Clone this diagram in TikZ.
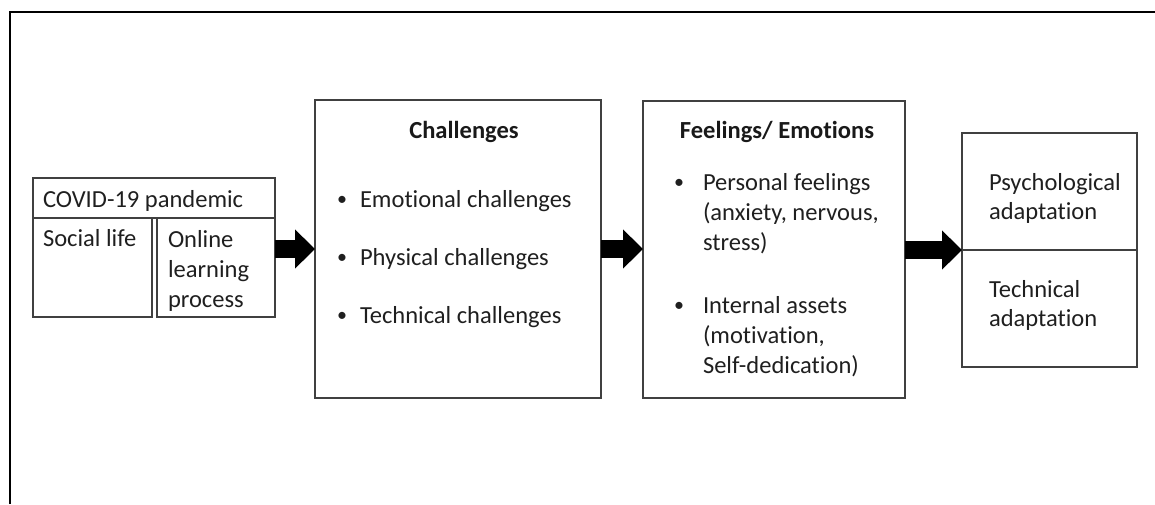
\documentclass[tikz,border=0pt]{standalone}
\usepackage{fontspec}
\setmainfont{Carlito}[RawFeature={-liga}]
\usetikzlibrary{arrows.meta}
\begin{document}
\begin{tikzpicture}[x=0.75pt,y=-0.75pt,
  box/.style={draw=black!75, line width=0.9pt, inner sep=0pt, outer sep=0pt, anchor=north west},
  txt/.style={anchor=base west, inner sep=0pt, outer sep=0pt, text=black!88, font=\fontsize{18.4}{22.5}\selectfont},
  head/.style={anchor=base, inner sep=0pt, outer sep=0pt, text=black!90, font=\fontsize{18.4}{22.5}\selectfont\bfseries},
  bul/.style={anchor=base west, inner sep=0pt, outer sep=0pt, text=black!88, font=\fontsize{15}{18}\selectfont},
  flow/.style={line width=13.5pt, black, -{Triangle[length=15pt, width=28.5pt]}}]
  \useasboundingbox (0,0) rectangle (1155,504);
  % frame
  \draw[line width=1.6pt, black] (10,504) -- (10,12) -- (1155,12);

  % COVID-19 block
  \node[box, minimum width=181.5pt, minimum height=30pt] (covid) at (33,178) {};
  \node[box, minimum width=89.25pt, minimum height=74.25pt] (social) at (33,218) {};
  \node[box, minimum width=88.5pt, minimum height=74.25pt] (online) at (157,218) {};
  \node[txt] (tcovid) at (43,207) {COVID-19 pandemic};
  \node[txt] (tsocial) at (43,246) {Social life};
  \node[txt] (ton1) at (168,247) {Online};
  \node[txt] (ton2) at (168,277) {learning};
  \node[txt] (ton3) at (168,307) {process};

  % Challenges
  \node[box, minimum width=214.5pt, minimum height=223.5pt] (chal) at (315,100) {};
  \node[head] (tchal) at (464,138) {Challenges};
  \node[bul] (cb1) at (337,205) {•};
  \node[txt] (c1) at (360,207) {Emotional challenges};
  \node[bul] (cb2) at (337,263) {•};
  \node[txt] (c2) at (360,265) {Physical challenges};
  \node[bul] (cb3) at (337,321) {•};
  \node[txt] (c3) at (360,323) {Technical challenges};

  % Feelings / Emotions
  \node[box, minimum width=196.5pt, minimum height=222.75pt] (feel) at (643,101) {};
  \node[head] (tfeel) at (777,138) {Feelings/ Emotions};
  \node[bul] (fb1) at (674,188) {•};
  \node[txt] (f1) at (703,190) {Personal feelings};
  \node[txt] (f2) at (703,220) {(anxiety, nervous,};
  \node[txt] (f3) at (703,250) {stress)};
  \node[bul] (fb2) at (674,311) {•};
  \node[txt] (f4) at (703,313) {Internal assets};
  \node[txt] (f5) at (703,343) {(motivation,};
  \node[txt] (f6) at (703,373) {Self-dedication)};

  % Adaptation
  \node[box, minimum width=131.25pt, minimum height=87.75pt] (psy) at (962,133) {};
  \node[box, minimum width=131.25pt, minimum height=87.75pt] (tech) at (962,250) {};
  \node[txt] (p1) at (989,190) {Psychological};
  \node[txt] (p2) at (989,219) {adaptation};
  \node[txt] (t1) at (989,297) {Technical};
  \node[txt] (t2) at (989,326) {adaptation};

  % block arrows
  \draw[flow] (online.east |- chal.west) -- (chal.west);
  \draw[flow] (chal.east) -- (feel.west |- chal.east);
  \draw[flow] (feel.east |- psy.south) -- (psy.south west);
\end{tikzpicture}
\end{document}
